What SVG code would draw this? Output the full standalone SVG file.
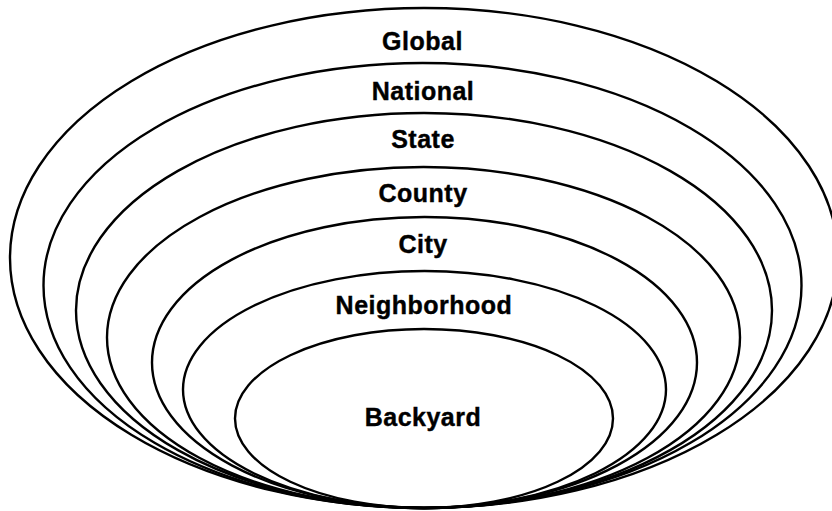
<svg xmlns="http://www.w3.org/2000/svg" width="832" height="511" viewBox="0 0 832 511">
<style>
.ring{fill:none;stroke:#000;stroke-width:2.4}
.lbl{font-family:"Liberation Sans",Arial,sans-serif;font-weight:bold;font-size:25px;letter-spacing:0.5px;text-anchor:middle;fill:#000;stroke:#000;stroke-width:0.4}
</style>
<rect width="832" height="511" fill="#fff"/>
<g id="global"><ellipse class="ring" cx="424" cy="258" rx="414" ry="250"/><text class="lbl" x="422.5" y="50">Global</text></g>
<g id="national"><ellipse class="ring" cx="422.5" cy="285.5" rx="379" ry="222.5"/><text class="lbl" x="423" y="99.5">National</text></g>
<g id="state"><ellipse class="ring" cx="424" cy="310.5" rx="348" ry="197.5"/><text class="lbl" x="423" y="148">State</text></g>
<g id="county"><ellipse class="ring" cx="423.5" cy="337.5" rx="316.5" ry="170.5"/><text class="lbl" x="423" y="202">County</text></g>
<g id="city"><ellipse class="ring" cx="424.5" cy="362.5" rx="272.5" ry="145.5"/><text class="lbl" x="423" y="253">City</text></g>
<g id="neighborhood"><ellipse class="ring" cx="424.5" cy="389.5" rx="241.5" ry="118.5"/><text class="lbl" x="424" y="314">Neighborhood</text></g>
<g id="backyard"><ellipse class="ring" cx="424" cy="418.5" rx="189" ry="89.5"/><text class="lbl" x="423" y="426">Backyard</text></g>
</svg>
